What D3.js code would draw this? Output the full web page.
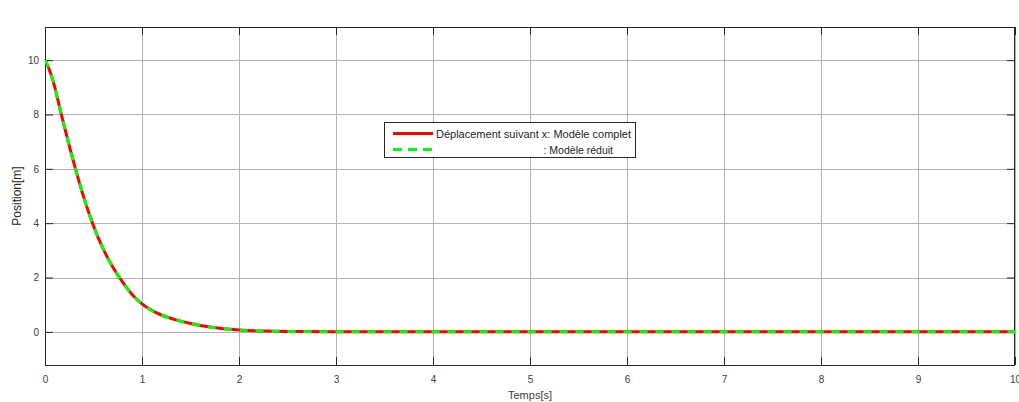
<!DOCTYPE html>
<html><head><meta charset="utf-8">
<script src="https://cdn.jsdelivr.net/npm/d3@7"></script>
<style>
html,body{margin:0;padding:0;background:#fff;}
svg{display:block;font-family:"Liberation Sans",Arial,sans-serif;}
</style></head>
<body>
<svg id="chart" width="1019" height="402"></svg>
<script>
// Data
const time = [0, 0.05, 0.1, 0.15, 0.2, 0.25, 0.3, 0.35, 0.4, 0.45, 0.5, 0.6, 0.7, 0.8, 0.9, 1.0, 1.1, 1.2, 1.35, 1.5, 1.7, 2.0, 2.3, 2.6, 3, 4, 5, 6, 7, 8, 9, 10];
const positionComplet = [10, 9.6, 9.02, 8.27, 7.55, 6.85, 6.18, 5.55, 4.95, 4.4, 3.9, 3.05, 2.38, 1.83, 1.37, 1.03, 0.79, 0.62, 0.44, 0.31, 0.18, 0.07, 0.03, 0.012, 0.004, 0, 0, 0, 0, 0, 0, 0];
const positionReduit = [10, 9.6, 9.02, 8.27, 7.55, 6.85, 6.18, 5.55, 4.95, 4.4, 3.9, 3.05, 2.38, 1.83, 1.37, 1.03, 0.79, 0.62, 0.44, 0.31, 0.18, 0.07, 0.03, 0.012, 0.004, 0, 0, 0, 0, 0, 0, 0];
const xTicks = [0, 1, 2, 3, 4, 5, 6, 7, 8, 9, 10];
const yTicks = [0, 2, 4, 6, 8, 10];
const legendLabels = ["Déplacement suivant x: Modèle complet", ": Modèle réduit"];
const xLabel = "Temps[s]";
const yLabel = "Position[m]";

const svg = d3.select("#chart");
const L = 45, R = 1015, T = 27, B = 365;
const x = d3.scaleLinear().domain([0, 10]).range([L, R]);
const y = d3.scaleLinear().domain([-1.22, 11.22]).range([B, T]);
const axisCol = "#262626", gridCol = "#b3b3b3", textCol = "#404040";

// grid
const g = svg.append("g");
g.selectAll(".vg").data(xTicks).enter().append("line")
  .attr("x1", d => x(d)).attr("x2", d => x(d)).attr("y1", T).attr("y2", B)
  .attr("stroke", gridCol).attr("stroke-width", 1).attr("shape-rendering", "crispEdges");
g.selectAll(".hg").data(yTicks).enter().append("line")
  .attr("y1", d => Math.round(y(d)) + 0.5).attr("y2", d => Math.round(y(d)) + 0.5).attr("x1", L).attr("x2", R)
  .attr("stroke", gridCol).attr("stroke-width", 1);

// axes with inward ticks
const tl = 8;
const xb = d3.axisBottom(x).tickValues(xTicks).tickSize(-tl).tickPadding(11).tickFormat(d3.format("d"));
const xt = d3.axisTop(x).tickValues(xTicks).tickSize(-tl).tickFormat("");
const yl = d3.axisLeft(y).tickValues(yTicks).tickSize(-tl).tickPadding(6).tickFormat(d3.format("d"));
const yr = d3.axisRight(y).tickValues(yTicks).tickSize(-tl).tickFormat("");
function style(sel) {
  sel.select(".domain").remove();
  sel.selectAll(".tick line").attr("stroke", axisCol);
  sel.selectAll(".tick text").attr("fill", textCol).style("font-size", "10px").style("font-family", "Liberation Sans, Arial, sans-serif");
}
svg.append("g").attr("transform", `translate(0,${B})`).call(xb).call(style);
svg.append("g").attr("transform", `translate(0,${T})`).call(xt).call(style);
svg.append("g").attr("transform", `translate(${L},0)`).call(yl).call(style);
svg.append("g").attr("transform", `translate(${R},0)`).call(yr).call(style);

// frame
svg.append("rect").attr("x", L + 0.5).attr("y", T + 0.5).attr("width", R - L - 1).attr("height", B - T)
  .attr("fill", "none").attr("stroke", axisCol).attr("stroke-width", 1);

// lines
const line = d3.line().curve(d3.curveMonotoneX);
svg.append("clipPath").attr("id", "clip").append("rect").attr("x", L).attr("y", T).attr("width", R - L).attr("height", B - T);
const lg = svg.append("g").attr("clip-path", "url(#clip)");
lg.append("path").attr("d", line(time.map((t, i) => [x(t), y(positionComplet[i])])))
  .attr("fill", "none").attr("stroke", "#ff0000").attr("stroke-width", 3);
lg.append("path").attr("d", line(time.map((t, i) => [x(t), y(positionReduit[i])])))
  .attr("fill", "none").attr("stroke", "#00ff00").attr("stroke-width", 3).attr("stroke-dasharray", "8,8");

// axis labels
svg.append("text").attr("x", x(5)).attr("y", 399).attr("text-anchor", "middle")
  .attr("fill", textCol).style("font-size", "11px").text(xLabel);
svg.append("text").attr("transform", `translate(21,${(T + B) / 2}) rotate(-90)`).attr("text-anchor", "middle")
  .attr("fill", "#262626").style("font-size", "12px").text(yLabel);

// legend
const leg = svg.append("g");
leg.append("rect").attr("x", 384.5).attr("y", 122.5).attr("width", 251).attr("height", 35)
  .attr("fill", "#fff").attr("stroke", axisCol).attr("stroke-width", 1);
leg.append("line").attr("x1", 393).attr("x2", 433).attr("y1", 133.5).attr("y2", 133.5)
  .attr("stroke", "#ff0000").attr("stroke-width", 3);
leg.append("line").attr("x1", 393).attr("x2", 433).attr("y1", 149.5).attr("y2", 149.5)
  .attr("stroke", "#00ff00").attr("stroke-width", 3).attr("stroke-dasharray", "9,6");
leg.append("text").attr("x", 436).attr("y", 137.5).attr("fill", "#262626").style("font-size", "11px").text(legendLabels[0]);
leg.append("text").attr("x", 613).attr("y", 153.5).attr("text-anchor", "end").attr("fill", "#262626").style("font-size", "10.5px").text(legendLabels[1]);
</script>
</body></html>
